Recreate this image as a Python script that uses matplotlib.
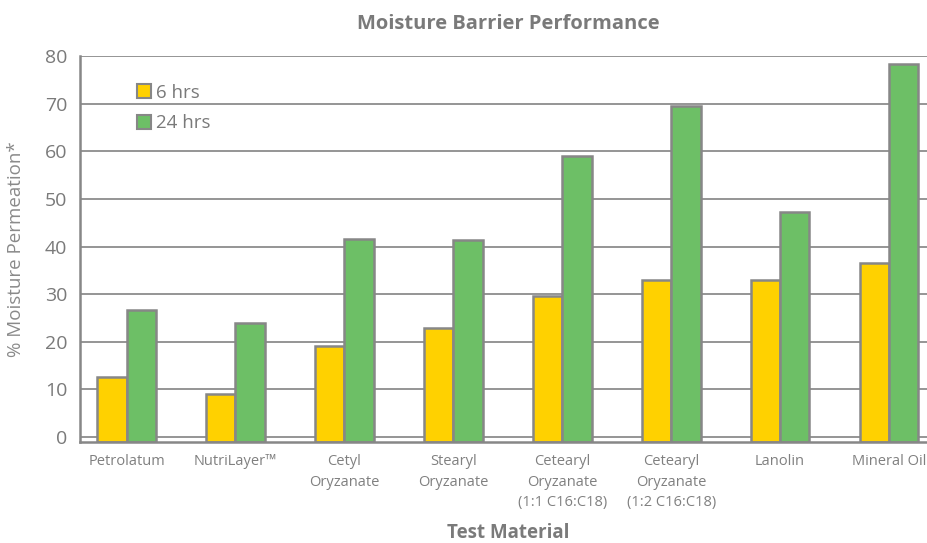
import numpy as np
import matplotlib.pyplot as plt
from matplotlib.patches import Patch

materials = ['Petrolatum', 'NutriLayer\u2122', 'Cetyl\nOryzanate', 'Stearyl\nOryzanate',
             'Cetearyl\nOryzanate\n(1:1 C16:C18)', 'Cetearyl\nOryzanate\n(1:2 C16:C18)',
             'Lanolin', 'Mineral Oil']
hrs6 = [12.6, 9.0, 19.2, 22.8, 29.7, 33.0, 33.0, 36.6]
hrs24 = [26.7, 23.9, 41.5, 41.4, 59.0, 69.6, 47.2, 78.4]
yticks = [0, 10, 20, 30, 40, 50, 60, 70, 80]

plt.rcParams['font.family'] = ['Open Sans', 'DejaVu Sans']
grey = '#7a7a7a'
edge = '#878787'
yellow = '#FFD100'
green = '#6DBF66'

fig = plt.figure(figsize=(9.28, 5.43), dpi=100)
ax = fig.add_axes([0.0862, 0.1864, 0.9138, 0.7105])

x = np.arange(len(materials))
w = 0.27
ylo = -1
h6 = np.array(hrs6) - ylo
h24 = np.array(hrs24) - ylo
ax.bar(x - w / 2, h6, w, bottom=ylo, color=yellow, edgecolor=edge, linewidth=1.8, zorder=3)
ax.bar(x + w / 2, h24, w, bottom=ylo, color=green, edgecolor=edge, linewidth=1.8, zorder=3)

ax.set_xlim(-0.427, 7.358)
ax.set_ylim(ylo, 80)
ax.set_yticks(yticks)
ax.set_yticklabels([str(t) for t in yticks], fontsize=14, color=grey)
ax.set_xticks(x)
ax.set_xticklabels(materials, fontsize=10.5, color='#808080', linespacing=1.5)
ax.tick_params(axis='y', length=0, pad=9)
ax.tick_params(axis='x', length=0, pad=9)
ax.grid(axis='y', color='#8c8c8c', linewidth=1.3, zorder=0)

for s in ['top', 'right']:
    ax.spines[s].set_visible(False)
for s in ['left', 'bottom']:
    ax.spines[s].set_color(edge)
    ax.spines[s].set_linewidth(1.8)
    ax.spines[s].set_zorder(4)

ax.set_ylabel('% Moisture Permeation*', fontsize=13.5, color='#8a8a8a')
ax.yaxis.set_label_coords(-0.065, 0.5)
fig.text(0.548, 0.956, 'Moisture Barrier Performance', ha='center', va='center',
         fontsize=14.5, fontweight='bold', color='#7a7a7a')
fig.text(0.548, 0.018, 'Test Material', ha='center', va='center',
         fontsize=13.5, fontweight='bold', color='#7a7a7a')

handles = [Patch(facecolor=yellow, edgecolor=edge, linewidth=1.5, label='6 hrs'),
           Patch(facecolor=green, edgecolor=edge, linewidth=1.5, label='24 hrs')]
leg = fig.legend(handles=handles, loc='upper left', bbox_to_anchor=(0.148, 0.846),
                 frameon=False, fontsize=13.5, handlelength=0.75, handleheight=0.75,
                 handletextpad=0.25, labelspacing=0.68, borderpad=0, borderaxespad=0)
for t in leg.get_texts():
    t.set_color(grey)

fig.savefig('out.png', dpi=100)
